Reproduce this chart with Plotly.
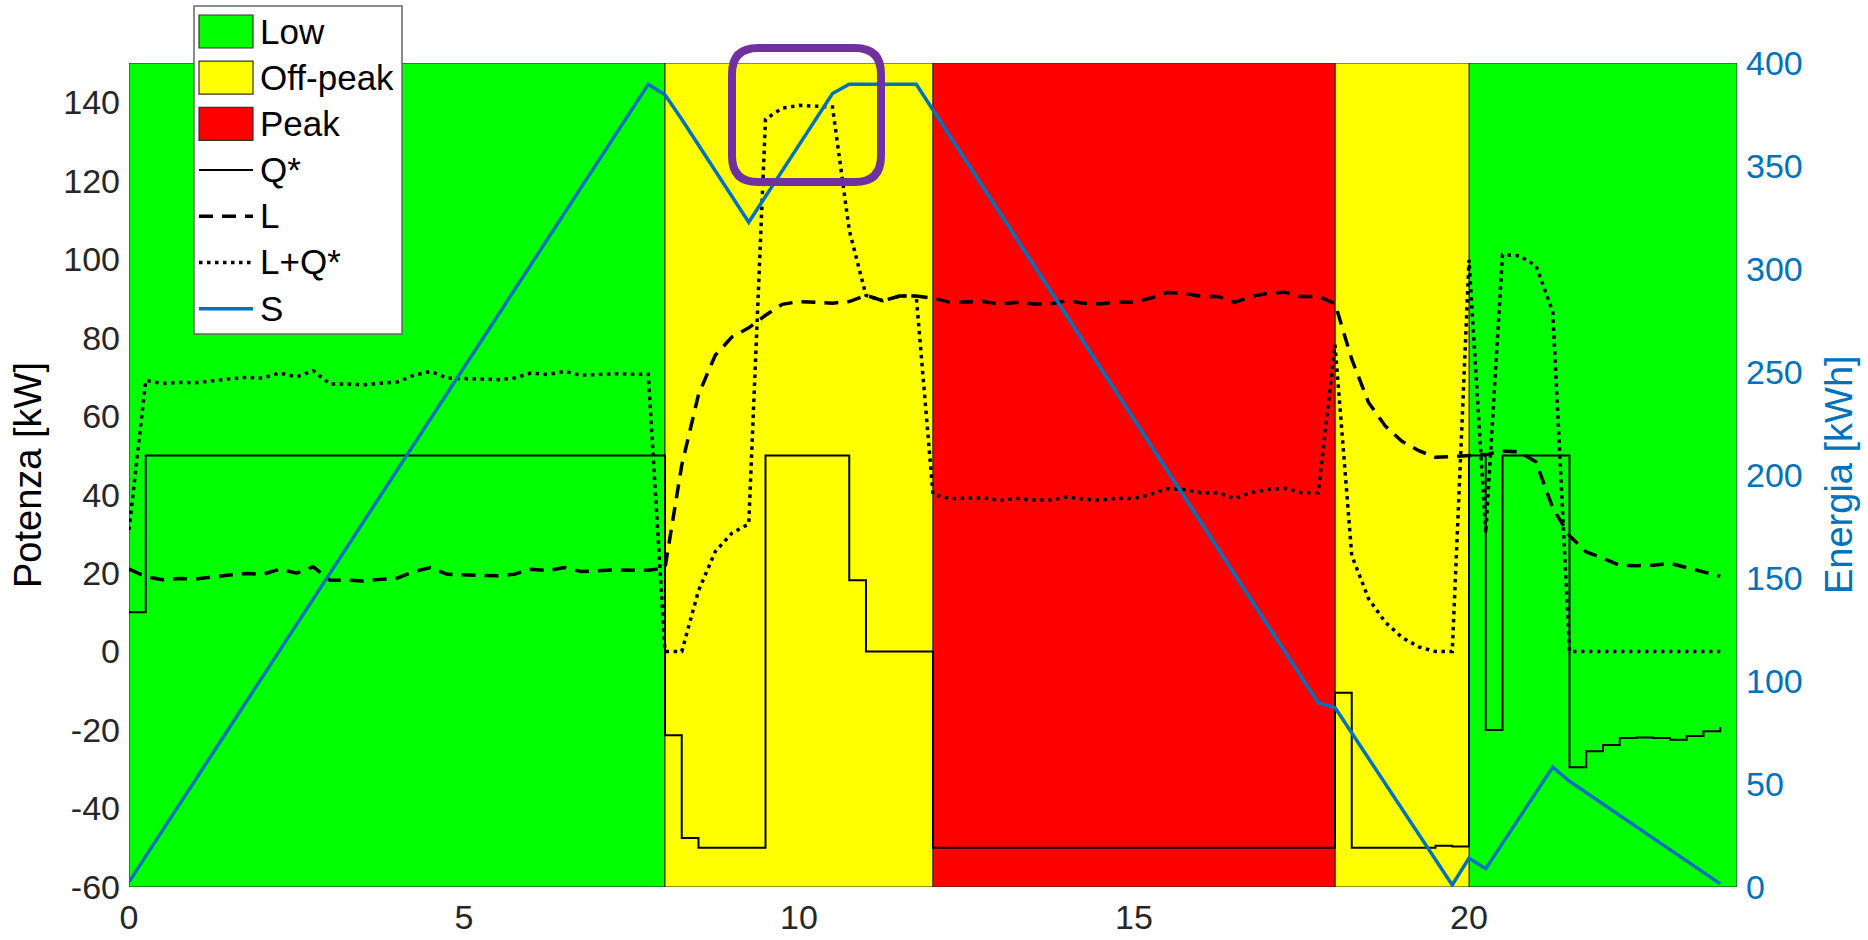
import plotly.graph_objects as go

# ---------------- data ----------------
STEP_H = 0.25  # sampling step [h]

# L : load [kW], one value per quarter hour from 0:00 to 23:45
L = [
    21.0, 19.1, 18.3, 18.6, 18.5, 19.1, 19.5, 19.9,
    19.7, 21.0, 20.0, 21.6, 18.2, 18.2, 18.0, 18.4,
    18.7, 20.4, 21.4, 19.7, 19.5, 19.3, 19.3, 19.7,
    21.0, 20.6, 21.4, 20.4, 20.7, 20.8, 20.7, 20.7,
    21.3, 47.5, 65.5, 75.5, 80.2, 82.5, 85.7, 88.5,
    89.2, 89.0, 88.8, 89.2, 90.8, 89.4, 90.6, 90.6,
    90.1, 89.0, 89.0, 89.2, 88.5, 89.0, 88.6, 88.6,
    89.4, 88.8, 88.6, 89.1, 89.0, 90.1, 91.5, 91.3,
    90.5, 90.5, 89.0, 90.5, 91.3, 91.6, 90.5, 90.5,
    88.7, 74.5, 63.5, 57.5, 53.6, 51.2, 49.5, 49.7,
    49.8, 50.2, 51.1, 50.9, 48.3, 36.6, 29.5, 25.4,
    23.8, 22.0, 21.9, 22.0, 22.5, 21.5, 20.3, 19.2,
]

# Q* : battery power [kW] (stairs), one value per quarter hour
Q = [
    10, 50, 50, 50, 50, 50, 50, 50,
    50, 50, 50, 50, 50, 50, 50, 50,
    50, 50, 50, 50, 50, 50, 50, 50,
    50, 50, 50, 50, 50, 50, 50, 50,
    -21.3, -47.5, -50, -50, -50, -50, 50, 50,
    50, 50, 50, 18.2, 0, 0, 0, 0,
    -50, -50, -50, -50, -50, -50, -50, -50,
    -50, -50, -50, -50, -50, -50, -50, -50,
    -50, -50, -50, -50, -50, -50, -50, -50,
    -10.5, -50, -50, -50, -50, -50, -49.5, -49.7,
    50, -20, 50, 50, 50, 50, -29.5, -25.4,
    -23.8, -22.0, -21.9, -22.0, -22.5, -21.5, -20.3, -19.2,
]

# S : stored energy [kWh], vertices of the piecewise-linear curve
S_T = [0, 7.75, 8.0, 8.25, 9.25, 10.5, 10.75, 11.75, 17.75, 18.0,
       19.75, 20.0, 20.25, 21.25, 21.5, 23.75]
S_V = [2.5, 389.6, 384.6, 372.7, 322.7, 385.2, 389.7, 389.7, 89.4, 87.1,
       1.0, 14.0, 8.9, 58.2, 51.3, 1.5]

# tariff periods
TOU_EDGES = [0, 8, 12, 18, 20, 24]
TOU_BAND = ["Low", "Off-peak", "Peak", "Off-peak", "Low"]
BAND_ORDER = ["Low", "Off-peak", "Peak"]

X_RANGE = [0, 24]
X_TICKS = [0, 5, 10, 15, 20]
P_RANGE = [-60, 150]
P_TICKS = [-60, -40, -20, 0, 20, 40, 60, 80, 100, 120, 140]
E_RANGE = [0, 400]
E_TICKS = [0, 50, 100, 150, 200, 250, 300, 350, 400]

# ---------------- styling / layout ----------------
W, H = 1868, 940
ML, MR, MT, MB = 129, 131, 63, 53
PW, PH = W - ML - MR, H - MT - MB
FONT = "Liberation Sans, Arial, Helvetica, sans-serif"
BAND_COLORS = {"Low": "#00FF00", "Off-peak": "#FFFF00", "Peak": "#FF0000"}
BLUE = "#0072BD"
TICK_GRAY = "#262626"
DASH_L = "14px,9px"
DASH_LQ = "3.5px,4.5px"

T = [i * STEP_H for i in range(len(L))]
LQ = [l + q for l, q in zip(L, Q)]


def px_x(px):
    return (px - ML) / PW


def px_y(py):
    return (H - MB - py) / PH


fig = go.Figure()

for band in BAND_ORDER:
    xs, ys = [], []
    for k, b in enumerate(TOU_BAND):
        if b != band:
            continue
        x0, x1 = TOU_EDGES[k], TOU_EDGES[k + 1]
        if xs:
            xs.append(None)
            ys.append(None)
        xs += [x0, x1, x1, x0, x0]
        ys += [P_RANGE[0], P_RANGE[0], P_RANGE[1], P_RANGE[1], P_RANGE[0]]
    fig.add_trace(go.Scatter(
        x=xs, y=ys, mode="lines", fill="toself",
        fillcolor=BAND_COLORS[band],
        line=dict(color="#262626", width=1),
        name=band, hoverinfo="skip", showlegend=False,
    ))

fig.add_trace(go.Scatter(
    x=T, y=Q, mode="lines", name="Q*", showlegend=False,
    line=dict(color="black", width=2, shape="hv"),
))
fig.add_trace(go.Scatter(
    x=T, y=L, mode="lines", name="L", showlegend=False,
    line=dict(color="black", width=3.5, dash=DASH_L),
))
fig.add_trace(go.Scatter(
    x=T, y=LQ, mode="lines", name="L+Q*", showlegend=False,
    line=dict(color="black", width=3.5, dash=DASH_LQ),
))
fig.add_trace(go.Scatter(
    x=S_T, y=S_V, mode="lines", name="S", yaxis="y2", showlegend=False,
    line=dict(color=BLUE, width=3.5),
))

shapes = []
annotations = []

# purple highlight frame (rounded rectangle), pixel positions
fl, ft, fr, fb, rad = 732, 48, 881, 182, 26
rx, ry = rad / PW, rad / PH
xl, xr, yt, yb = px_x(fl), px_x(fr), px_y(ft), px_y(fb)
path = (
    f"M{xl + rx},{yt} L{xr - rx},{yt} Q{xr},{yt} {xr},{yt - ry} "
    f"L{xr},{yb + ry} Q{xr},{yb} {xr - rx},{yb} "
    f"L{xl + rx},{yb} Q{xl},{yb} {xl},{yb + ry} "
    f"L{xl},{yt - ry} Q{xl},{yt} {xl + rx},{yt} Z"
)
shapes.append(dict(type="path", path=path, xref="paper", yref="paper",
                   line=dict(color="#7030A0", width=8), layer="above"))

# ---- legend box (MATLAB style: large colour patches) ----
LEG_L, LEG_T, LEG_R, LEG_B = 194, 6, 402, 334
SYM_L, SYM_R, TXT_L = 199, 253, 259
ROW0, ROW_DY, PATCH_H = 31.5, 46.2, 33
shapes.append(dict(type="rect", xref="paper", yref="paper",
                   x0=px_x(LEG_L), x1=px_x(LEG_R), y0=px_y(LEG_B), y1=px_y(LEG_T),
                   fillcolor="white", line=dict(color="#666666", width=1.5),
                   layer="above"))
legend_items = [(b, "patch", BAND_COLORS[b]) for b in BAND_ORDER] + [
    ("Q*", "line", dict(color="black", width=2)),
    ("L", "line", dict(color="black", width=3.5, dash=DASH_L)),
    ("L+Q*", "line", dict(color="black", width=3.5, dash=DASH_LQ)),
    ("S", "line", dict(color=BLUE, width=3.5)),
]
for i, (label, kind, style) in enumerate(legend_items):
    cy = ROW0 + i * ROW_DY
    if kind == "patch":
        shapes.append(dict(type="rect", xref="paper", yref="paper",
                           x0=px_x(SYM_L), x1=px_x(SYM_R),
                           y0=px_y(cy + PATCH_H / 2), y1=px_y(cy - PATCH_H / 2),
                           fillcolor=style, line=dict(color="#333333", width=1.2),
                           layer="above"))
    else:
        shapes.append(dict(type="line", xref="paper", yref="paper",
                           x0=px_x(SYM_L), x1=px_x(SYM_R),
                           y0=px_y(cy), y1=px_y(cy), line=style, layer="above"))
    annotations.append(dict(text=label, xref="paper", yref="paper",
                            x=px_x(TXT_L - 1), y=px_y(cy - 0.5),
                            xanchor="left", yanchor="middle", showarrow=False,
                            font=dict(family=FONT, size=35, color="black")))

annotations += [
    dict(text="Potenza [kW]", xref="paper", yref="paper",
         x=px_x(28), y=0.5, xanchor="center", yanchor="middle",
         textangle=-90, showarrow=False,
         font=dict(family=FONT, size=38, color="black")),
    dict(text="Energia [kWh]", xref="paper", yref="paper",
         x=px_x(1839), y=0.5, xanchor="center", yanchor="middle",
         textangle=-90, showarrow=False,
         font=dict(family=FONT, size=38, color=BLUE)),
]

fig.update_layout(
    width=W, height=H, autosize=False,
    margin=dict(l=ML, r=MR, t=MT, b=MB, pad=0, autoexpand=False),
    paper_bgcolor="white", plot_bgcolor="white",
    font=dict(family=FONT, size=34, color=TICK_GRAY),
    showlegend=False,
    xaxis=dict(
        range=X_RANGE, tickvals=X_TICKS, ticktext=[str(v) for v in X_TICKS],
        ticks="", showgrid=False, automargin=False,
        zeroline=False, showline=False, ticklabelstandoff=7,
        tickfont=dict(family=FONT, size=34, color=TICK_GRAY),
    ),
    yaxis=dict(
        range=P_RANGE, tickvals=P_TICKS, ticktext=[str(v) for v in P_TICKS],
        ticks="", showgrid=False, automargin=False,
        zeroline=False, showline=False, ticklabelstandoff=8,
        tickfont=dict(family=FONT, size=34, color=TICK_GRAY),
    ),
    yaxis2=dict(
        range=E_RANGE, tickvals=E_TICKS, ticktext=[str(v) for v in E_TICKS],
        ticks="", showgrid=False, automargin=False,
        zeroline=False, showline=False, overlaying="y", side="right",
        ticklabelstandoff=8,
        tickfont=dict(family=FONT, size=34, color=BLUE),
    ),
    shapes=shapes,
    annotations=annotations,
)

fig.write_html("out.html", include_plotlyjs=True, full_html=True,
               config={"displayModeBar": False})
